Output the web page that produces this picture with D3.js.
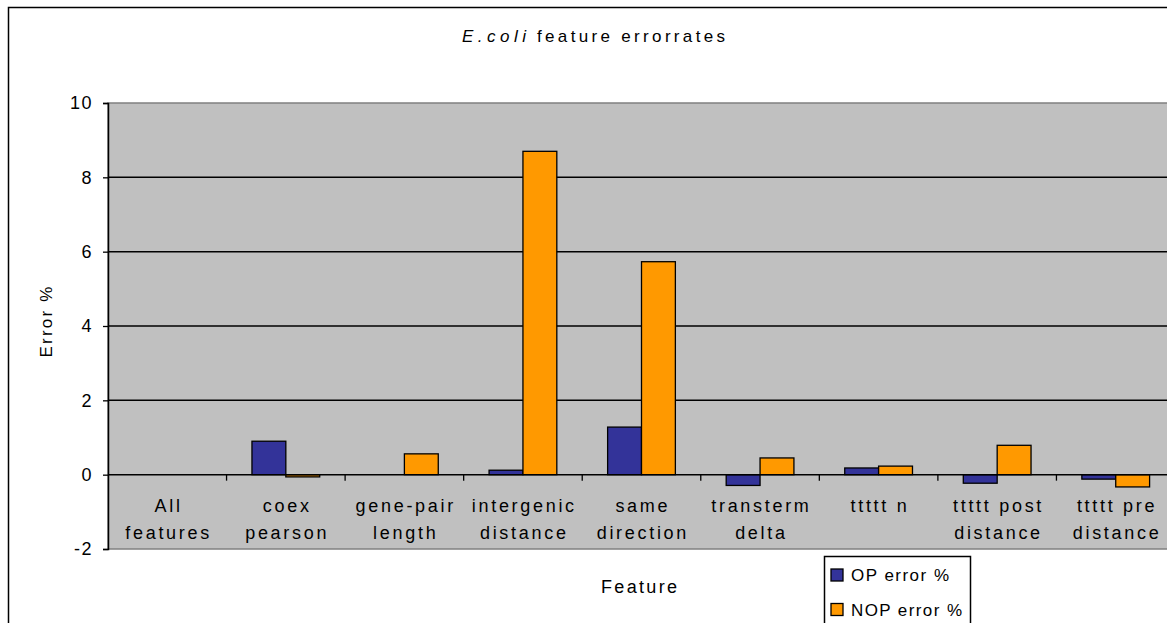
<!DOCTYPE html>
<html>
<head>
<meta charset="utf-8">
<script src="https://cdn.jsdelivr.net/npm/d3@7"></script>
<style>
  html, body { margin: 0; padding: 0; background: #fff; }
  svg { display: block; font-family: "Liberation Sans", Arial, sans-serif; }
</style>
</head>
<body>
<svg id="chart" width="1167" height="623"></svg>
<script>
// Feature names (two-line labels)
const features = [
  ["All", "features"],
  ["coex", "pearson"],
  ["gene-pair", "length"],
  ["intergenic", "distance"],
  ["same", "direction"],
  ["transterm", "delta"],
  ["ttttt n", ""],
  ["ttttt post", "distance"],
  ["ttttt pre", "distance"]
];
const seriesNames = ["OP error %", "NOP error %"];
const opError  = [0, 0.90, 0, 0.12, 1.28, -0.29, 0.18, -0.23, -0.12];
const nopError = [0, -0.06, 0.56, 8.70, 5.73, 0.45, 0.23, 0.79, -0.33];
const yTicks = [-2, 0, 2, 4, 6, 8, 10];
const colors = ["#333399", "#ff9900"];

const svg = d3.select("#chart");
const plot = { left: 108, right: 1175, top: 103, bottom: 549 };

// Outer chart border (right/bottom edges run off the frame)
svg.append("rect")
  .attr("x", 8.5).attr("y", 7.5)
  .attr("width", 1200).attr("height", 700)
  .attr("fill", "#fff").attr("stroke", "#000").attr("stroke-width", 1.5);

const x = d3.scaleBand()
  .domain(d3.range(features.length))
  .range([plot.left, plot.right])
  .paddingInner(0).paddingOuter(0);

const y = d3.scaleLinear().domain([-2, 10]).range([plot.bottom, plot.top]);

// Plot area background
svg.append("rect")
  .attr("x", plot.left).attr("y", plot.top)
  .attr("width", plot.right - plot.left).attr("height", plot.bottom - plot.top)
  .attr("fill", "#c0c0c0").attr("stroke", "#808080").attr("stroke-width", 1.5);

// Horizontal gridlines
svg.append("g").selectAll("line")
  .data(yTicks.filter(t => t > 0 && t < 10))
  .join("line")
  .attr("x1", plot.left).attr("x2", plot.right)
  .attr("y1", d => y(d)).attr("y2", d => y(d))
  .attr("stroke", "#000").attr("stroke-width", 1.5);

// Bars
const bw = x.bandwidth() / 3.5;
const series = [opError, nopError];
series.forEach((vals, si) => {
  svg.append("g").selectAll("rect")
    .data(vals.map((v, i) => ({ v, i })).filter(d => d.v !== 0))
    .join("rect")
    .attr("x", d => x(d.i) + x.bandwidth() / 2 - bw + si * bw)
    .attr("y", d => y(Math.max(0, d.v)))
    .attr("width", bw)
    .attr("height", d => Math.abs(y(d.v) - y(0)))
    .attr("fill", colors[si])
    .attr("stroke", "#000").attr("stroke-width", 1.3);
});

// Zero line with category tick marks
svg.append("line")
  .attr("x1", plot.left).attr("x2", plot.right)
  .attr("y1", y(0)).attr("y2", y(0))
  .attr("stroke", "#000").attr("stroke-width", 1.5);
svg.append("g").selectAll("line")
  .data(d3.range(1, features.length))
  .join("line")
  .attr("x1", d => x(d)).attr("x2", d => x(d))
  .attr("y1", y(0)).attr("y2", y(0) + 6)
  .attr("stroke", "#000").attr("stroke-width", 1.3);

// Category labels (wide-tracked text)
const LS = 2.7;
const lab = svg.append("g").attr("font-size", 18).attr("fill", "#000")
  .attr("text-anchor", "middle").attr("letter-spacing", LS);
features.forEach((f, i) => {
  f.forEach((line, li) => {
    if (!line) return;
    lab.append("text")
      .attr("x", x(i) + x.bandwidth() / 2 + LS / 2)
      .attr("y", 512 + li * 27)
      .text(line);
  });
});

// Y axis
const yAxis = d3.axisLeft(y).tickValues(yTicks).tickSize(5).tickPadding(10)
  .tickFormat(d3.format("d"));
const ya = svg.append("g").attr("transform", `translate(${plot.left},0)`).call(yAxis);
ya.select(".domain").attr("stroke", "#000").attr("stroke-width", 1.5);
ya.selectAll(".tick line").attr("stroke", "#000").attr("stroke-width", 1.3);
ya.selectAll(".tick text").attr("font-size", 18).attr("fill", "#000")
  .attr("letter-spacing", 1.5)
  .attr("font-family", "Liberation Sans, Arial, sans-serif")
  .text(d => d < 0 ? "-" + Math.abs(d) : d);

// Title
svg.append("text").attr("x", 462).attr("y", 42)
  .attr("font-size", 17).attr("font-style", "italic").attr("fill", "#000")
  .attr("textLength", 64).attr("lengthAdjust", "spacing")
  .text("E.coli");
svg.append("text").attr("x", 537).attr("y", 42)
  .attr("font-size", 17).attr("fill", "#000")
  .attr("textLength", 188).attr("lengthAdjust", "spacing")
  .text("feature errorrates");

// Axis titles
svg.append("text")
  .attr("transform", "translate(52,322) rotate(-90)")
  .attr("text-anchor", "middle").attr("font-size", 17).attr("fill", "#000")
  .attr("textLength", 71).attr("lengthAdjust", "spacing")
  .text("Error %");
svg.append("text")
  .attr("x", 639).attr("y", 593)
  .attr("text-anchor", "middle").attr("font-size", 18).attr("fill", "#000")
  .attr("textLength", 76).attr("lengthAdjust", "spacing")
  .text("Feature");

// Legend
const lg = svg.append("g");
lg.append("rect").attr("x", 824.5).attr("y", 556.5).attr("width", 146).attr("height", 80)
  .attr("fill", "#fff").attr("stroke", "#000").attr("stroke-width", 1.5);
const legendLen = [98, 111];
seriesNames.forEach((n, i) => {
  const yy = 575 + i * 34.5;
  lg.append("rect").attr("x", 831).attr("y", yy - 6).attr("width", 12).attr("height", 12)
    .attr("fill", colors[i]).attr("stroke", "#000").attr("stroke-width", 1.3);
  lg.append("text").attr("x", 851).attr("y", yy + 6)
    .attr("font-size", 17).attr("fill", "#000")
    .attr("textLength", legendLen[i]).attr("lengthAdjust", "spacing")
    .text(n);
});
</script>
</body>
</html>
